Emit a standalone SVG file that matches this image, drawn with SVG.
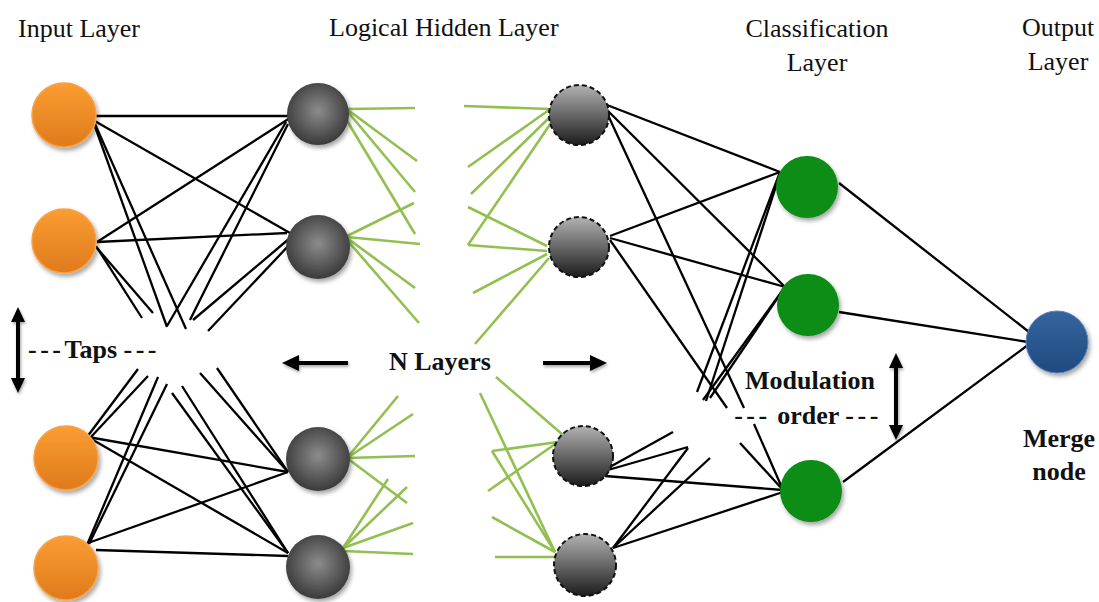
<svg xmlns="http://www.w3.org/2000/svg" width="1099" height="602" viewBox="0 0 1099 602">
<style>
.lbl{font-family:"Liberation Serif","Times New Roman",serif;font-size:26px;fill:#111}
.b{font-weight:bold}
.ds{letter-spacing:3.5px}
.k{stroke:#000;stroke-width:2.3;fill:none}
.gr{stroke:#92c050;stroke-width:2.6;fill:none}
.arr{stroke:#000;stroke-width:4;fill:none}
.inp{fill:url(#gOr);stroke:#f6a247;stroke-width:1.5;filter:url(#sh)}
.hid{fill:url(#gHid);filter:url(#sh)}
.hidd{fill:url(#gHidD);stroke:#111;stroke-width:2;stroke-dasharray:5 3}
.cls{fill:#078c14;filter:url(#sh)}
.out{fill:url(#gBl);stroke:#5a86bd;stroke-width:1;filter:url(#sh)}
</style>
<defs>
<filter id="sh" x="-30%" y="-30%" width="160%" height="160%">
<feDropShadow dx="2" dy="3" stdDeviation="2" flood-color="#000" flood-opacity="0.35"/>
</filter>
<filter id="ash" x="-20%" y="-50%" width="140%" height="200%">
<feDropShadow dx="1" dy="2" stdDeviation="1.5" flood-color="#000" flood-opacity="0.35"/>
</filter>
<linearGradient id="gOr" x1="0" y1="0" x2="0" y2="1">
<stop offset="0" stop-color="#fa9d32"/>
<stop offset="1" stop-color="#df7a1c"/>
</linearGradient>
<radialGradient id="gHid" cx="0.5" cy="0.45" r="0.55">
<stop offset="0" stop-color="#8c8c8c"/>
<stop offset="1" stop-color="#3a3a3a"/>
</radialGradient>
<linearGradient id="gHidD" x1="0" y1="0" x2="0" y2="1">
<stop offset="0" stop-color="#b2b2b2"/>
<stop offset="1" stop-color="#1c1c1c"/>
</linearGradient>
<linearGradient id="gBl" x1="0" y1="0" x2="0" y2="1">
<stop offset="0" stop-color="#36649e"/>
<stop offset="1" stop-color="#1f4a80"/>
</linearGradient>
<marker id="ah" markerUnits="userSpaceOnUse" markerWidth="17" markerHeight="16" refX="0" refY="8" orient="auto-start-reverse">
<path d="M0,0 L17,8 L0,16 Z" fill="#000"/>
</marker>
<marker id="ah2" markerUnits="userSpaceOnUse" markerWidth="15" markerHeight="14" refX="0" refY="7" orient="auto-start-reverse">
<path d="M0,0 L15,7 L0,14 Z" fill="#000"/>
</marker>
</defs>
<rect width="1099" height="602" fill="#fff"/>

<g id="connectors">
<g class="k">
<line x1="93" y1="116" x2="288" y2="116"/>
<line x1="93" y1="120" x2="290" y2="233"/>
<line x1="93" y1="121" x2="167" y2="327"/>
<line x1="95" y1="124" x2="186" y2="329"/>
<line x1="97" y1="242" x2="290" y2="118"/>
<line x1="97" y1="242" x2="287" y2="233"/>
<line x1="96" y1="246" x2="142" y2="318"/>
<line x1="97" y1="248" x2="153" y2="313"/>
<line x1="286" y1="122" x2="167" y2="326"/>
<line x1="288" y1="124" x2="190" y2="320"/>
<line x1="290" y1="238" x2="193" y2="320"/>
<line x1="292" y1="242" x2="208" y2="331"/>

<line x1="88" y1="437" x2="288" y2="472"/>
<line x1="88" y1="437" x2="288" y2="553"/>
<line x1="87" y1="437" x2="138" y2="369"/>
<line x1="90" y1="438" x2="148" y2="376"/>
<line x1="88" y1="543" x2="288" y2="472"/>
<line x1="96" y1="550" x2="288" y2="556"/>
<line x1="87" y1="545" x2="158" y2="377"/>
<line x1="89" y1="544" x2="167" y2="384"/>
<line x1="288" y1="553" x2="172" y2="393"/>
<line x1="288" y1="553" x2="182" y2="386"/>
<line x1="288" y1="472" x2="200" y2="373"/>
<line x1="288" y1="472" x2="217" y2="368"/>

<line x1="607" y1="105" x2="780" y2="172"/>
<line x1="607" y1="110" x2="785" y2="287"/>
<line x1="607" y1="113" x2="744" y2="408"/>
<line x1="610" y1="236" x2="780" y2="172"/>
<line x1="610" y1="238" x2="785" y2="287"/>
<line x1="610" y1="240" x2="727" y2="408"/>
<line x1="780" y1="172" x2="697" y2="392"/>
<line x1="780" y1="174" x2="706" y2="401"/>
<line x1="785" y1="287" x2="703" y2="400"/>
<line x1="785" y1="287" x2="710" y2="398"/>

<line x1="608" y1="468" x2="673" y2="432"/>
<line x1="608" y1="470" x2="688" y2="447"/>
<line x1="605" y1="476" x2="783" y2="490"/>
<line x1="613" y1="548" x2="688" y2="448"/>
<line x1="613" y1="548" x2="710" y2="458"/>
<line x1="613" y1="548" x2="783" y2="492"/>
<line x1="783" y1="490" x2="740" y2="443"/>
<line x1="783" y1="490" x2="754" y2="424"/>

<line x1="839" y1="183" x2="1029" y2="332"/>
<line x1="839" y1="312" x2="1028" y2="342"/>
<line x1="843" y1="482" x2="1028" y2="345"/>
</g>
<g class="gr">
<line x1="348" y1="109" x2="415" y2="108"/>
<line x1="348" y1="110" x2="417" y2="161"/>
<line x1="348" y1="112" x2="415" y2="192"/>
<line x1="346" y1="119" x2="415" y2="234"/>
<line x1="347" y1="236" x2="414" y2="203"/>
<line x1="347" y1="237" x2="420" y2="244"/>
<line x1="347" y1="238" x2="415" y2="288"/>
<line x1="347" y1="240" x2="419" y2="323"/>
<line x1="464" y1="106" x2="549" y2="109"/>
<line x1="468" y1="167" x2="549" y2="110"/>
<line x1="471" y1="194" x2="551" y2="116"/>
<line x1="468" y1="245" x2="553" y2="120"/>
<line x1="468" y1="245" x2="547" y2="251"/>
<line x1="468" y1="207" x2="547" y2="246"/>
<line x1="473" y1="293" x2="547" y2="254"/>
<line x1="475" y1="344" x2="549" y2="258"/>
<line x1="347" y1="458" x2="398" y2="396"/>
<line x1="347" y1="458" x2="413" y2="414"/>
<line x1="347" y1="458" x2="415" y2="456"/>
<line x1="347" y1="458" x2="407" y2="503"/>
<line x1="343" y1="548" x2="388" y2="479"/>
<line x1="343" y1="548" x2="407" y2="487"/>
<line x1="343" y1="548" x2="413" y2="523"/>
<line x1="343" y1="551" x2="413" y2="554"/>
<line x1="496" y1="377" x2="563" y2="435"/>
<line x1="492" y1="451" x2="558" y2="442"/>
<line x1="488" y1="491" x2="558" y2="442"/>
<line x1="480" y1="393" x2="555" y2="552"/>
<line x1="492" y1="451" x2="555" y2="552"/>
<line x1="492" y1="517" x2="555" y2="552"/>
<line x1="495" y1="557" x2="555" y2="557"/>
</g>
</g>

<g id="input-1"><circle class="inp" cx="64" cy="115" r="32"/></g>
<g id="input-2"><circle class="inp" cx="64" cy="241" r="32"/></g>
<g id="input-3"><circle class="inp" cx="66" cy="458" r="32"/></g>
<g id="input-4"><circle class="inp" cx="66" cy="568" r="32"/></g>

<g id="hidden-1"><circle class="hid" cx="318" cy="114" r="31"/></g>
<g id="hidden-2"><circle class="hid" cx="318" cy="247" r="32"/></g>
<g id="hidden-3"><circle class="hid" cx="318" cy="459" r="32"/></g>
<g id="hidden-4"><circle class="hid" cx="318" cy="567" r="32"/></g>

<g id="hidden-n-1"><circle class="hidd" cx="579" cy="115" r="30"/></g>
<g id="hidden-n-2"><circle class="hidd" cx="579" cy="247" r="30"/></g>
<g id="hidden-n-3"><circle class="hidd" cx="583" cy="456" r="30"/></g>
<g id="hidden-n-4"><circle class="hidd" cx="585" cy="565" r="31"/></g>

<g id="class-1"><circle class="cls" cx="807" cy="187" r="31"/></g>
<g id="class-2"><circle class="cls" cx="808" cy="305" r="31"/></g>
<g id="class-3"><circle class="cls" cx="811" cy="491" r="31"/></g>

<g id="merge-node"><circle class="out" cx="1057" cy="342" r="31"/></g>

<g id="arrows" filter="url(#ash)">
<line class="arr" x1="348" y1="363" x2="299" y2="363" marker-end="url(#ah)"/>
<line class="arr" x1="543" y1="363" x2="590" y2="363" marker-end="url(#ah)"/>
<line class="arr" x1="18" y1="322" x2="18" y2="378" marker-start="url(#ah2)" marker-end="url(#ah2)"/>
<line class="arr" x1="896" y1="368" x2="896" y2="425" marker-start="url(#ah2)" marker-end="url(#ah2)"/>
</g>

<g id="labels">
<text class="lbl" x="18" y="37">Input Layer</text>
<text class="lbl" x="329" y="36">Logical Hidden Layer</text>
<text class="lbl" x="817" y="37" text-anchor="middle">Classification</text>
<text class="lbl" x="817" y="71" text-anchor="middle">Layer</text>
<text class="lbl" x="1058" y="36" text-anchor="middle">Output</text>
<text class="lbl" x="1058" y="70" text-anchor="middle">Layer</text>
<text class="lbl b" x="1059" y="447" text-anchor="middle">Merge</text>
<text class="lbl b" x="1059" y="480" text-anchor="middle">node</text>
<text class="lbl b" x="389" y="370">N Layers</text>
<text class="lbl b" x="28" y="358" xml:space="preserve"><tspan class="ds">---</tspan>Taps <tspan class="ds">---</tspan></text>
<text class="lbl b" x="810" y="389" text-anchor="middle">Modulation</text>
<text class="lbl b" x="808" y="424" text-anchor="middle" xml:space="preserve"><tspan class="ds">---</tspan> order <tspan class="ds">---</tspan></text>
</g>
</svg>
